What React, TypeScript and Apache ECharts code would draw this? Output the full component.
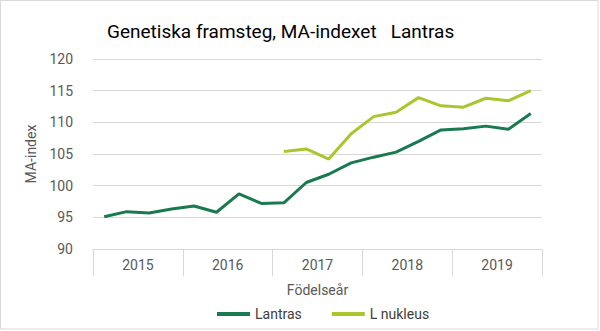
import React, { useEffect, useRef } from "react";
import * as echarts from "echarts";

const years = ["2015", "2016", "2017", "2018", "2019"];
const quarters = [
  "2015Q1", "2015Q2", "2015Q3", "2015Q4",
  "2016Q1", "2016Q2", "2016Q3", "2016Q4",
  "2017Q1", "2017Q2", "2017Q3", "2017Q4",
  "2018Q1", "2018Q2", "2018Q3", "2018Q4",
  "2019Q1", "2019Q2", "2019Q3", "2019Q4",
];
const lantras = [95.1, 95.9, 95.7, 96.3, 96.8, 95.8, 98.7, 97.2, 97.3, 100.5, 101.8, 103.6, 104.5, 105.3, 107.0, 108.8, 109.0, 109.4, 108.9, 111.4];
const nukleus = [null, null, null, null, null, null, null, null, 105.4, 105.8, 104.2, 108.2, 110.9, 111.6, 113.9, 112.6, 112.4, 113.8, 113.4, 115.0];

const FONT = "Roboto";

export default function App() {
  const ref = useRef<HTMLDivElement>(null);
  useEffect(() => {
    document.body.style.margin = "0";
    const chart = echarts.init(ref.current!, null, { renderer: "svg" });
    chart.setOption({
      animation: false,
      textStyle: { fontFamily: FONT },
      title: {
        text: "Genetiska framsteg, MA-indexet   Lantras",
        left: 102,
        top: 17,
        textStyle: { fontFamily: FONT, fontSize: 19, fontWeight: "normal", color: "#000" },
      },
      graphic: [
        {
          type: "rect",
          shape: { x: 0.5, y: 0.5, width: 597.5, height: 328.5 },
          style: { fill: "none", stroke: "#d9d9d9", lineWidth: 1 },
          silent: true,
        },
      ],
      legend: {
        left: 212,
        top: 302,
        itemWidth: 33,
        itemHeight: 4,
        itemGap: 30,
        icon: "rect",
        textStyle: { fontFamily: FONT, fontSize: 14, color: "#404040" },
        data: ["Lantras", "L nukleus"],
      },
      grid: { left: 93, right: 58, top: 59, bottom: 82 },
      xAxis: [
        {
          type: "category",
          data: quarters,
          boundaryGap: true,
          show: false,
        },
        {
          type: "category",
          data: years,
          position: "bottom",
          boundaryGap: true,
          axisLine: { show: true, lineStyle: { color: "#d9d9d9", width: 1 } },
          axisTick: { show: true, length: 27, interval: 0, lineStyle: { color: "#d9d9d9" } },
          axisLabel: { margin: 9, fontSize: 14, color: "#595959", fontFamily: FONT },
          name: "Födelseår",
          nameLocation: "middle",
          nameGap: 34,
          nameTextStyle: { fontSize: 14, color: "#595959", fontFamily: FONT },
        },
      ],
      yAxis: {
        type: "value",
        min: 90,
        max: 120,
        interval: 5,
        axisLine: { show: false },
        axisTick: { show: false },
        splitLine: { lineStyle: { color: "#d9d9d9", width: 1 } },
        axisLabel: { margin: 20, fontSize: 14, color: "#595959", fontFamily: FONT },
        name: "MA-index",
        nameLocation: "middle",
        nameRotate: 90,
        nameGap: 48,
        nameTextStyle: { fontSize: 14, color: "#595959", fontFamily: FONT },
      },
      series: [
        {
          name: "Lantras",
          type: "line",
          xAxisIndex: 0,
          data: lantras,
          symbol: "none",
          lineStyle: { color: "#1a7a4f", width: 3 },
          itemStyle: { color: "#1a7a4f" },
        },
        {
          name: "L nukleus",
          type: "line",
          xAxisIndex: 0,
          data: nukleus,
          symbol: "none",
          lineStyle: { color: "#a9c62f", width: 3 },
          itemStyle: { color: "#a9c62f" },
        },
      ],
    });
    return () => chart.dispose();
  }, []);
  return <div ref={ref} style={{ position: "absolute", left: 0, top: 0, width: 600, height: 331 }} />;
}
